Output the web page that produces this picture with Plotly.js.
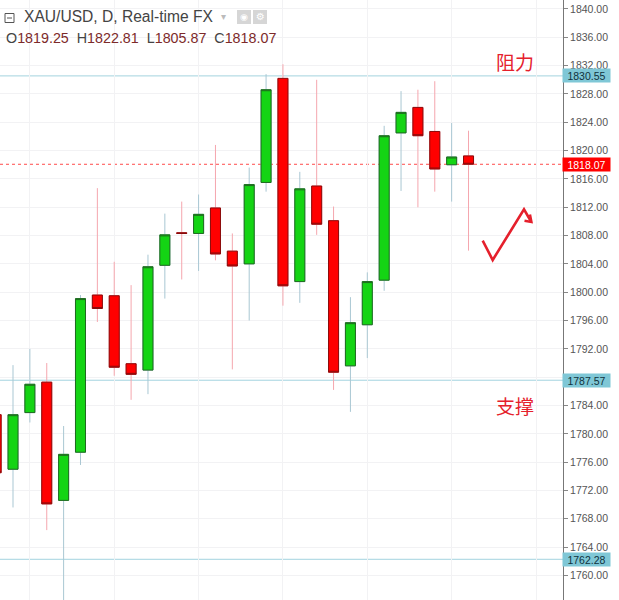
<!DOCTYPE html>
<html><head><meta charset="utf-8">
<script src="https://cdn.plot.ly/plotly-3.0.1.min.js"></script>
<style>html,body{margin:0;padding:0;background:#fff}#chart{width:619px;height:600px}</style>
</head><body><div id="chart"></div>
<script>
// Daily XAU/USD candles (oldest -> newest)
const openVals  = [1782.7,1775.0,1783.0,1787.3,1770.6,1777.4,1799.6,1799.5,1789.9,1789.0,1803.8,1808.4,1808.3,1811.9,1805.8,1804.0,1815.5,1830.2,1801.5,1815.0,1810.1,1789.6,1795.4,1801.7,1822.5,1826.1,1822.7,1818.0,1819.25];
const highVals  = [1784.5,1789.7,1792.0,1790.0,1781.1,1799.6,1814.7,1804.3,1801.0,1805.3,1811.1,1812.8,1813.8,1820.8,1808.3,1817.6,1830.8,1832.2,1817.0,1830.0,1812.1,1799.3,1802.8,1823.5,1828.4,1828.6,1829.8,1823.9,1822.81];
const lowVals   = [1772.0,1769.6,1781.6,1766.4,1756.0,1775.6,1795.8,1788.2,1784.8,1785.6,1799.1,1801.8,1803.0,1804.5,1789.1,1796.0,1814.2,1798.1,1798.5,1808.1,1786.2,1783.1,1790.7,1800.2,1814.3,1812.0,1814.2,1812.8,1805.87];
const closeVals = [1774.5,1782.7,1787.0,1770.1,1777.1,1799.1,1797.7,1789.4,1788.4,1803.6,1808.1,1808.3,1811.0,1805.4,1803.7,1815.2,1828.6,1800.9,1814.6,1809.6,1788.7,1795.7,1801.5,1822.1,1825.4,1822.1,1817.4,1819.1,1818.07];
const levelVals = [1830.55, 1787.57, 1762.28];   // resistance / support levels
const lastPrice = 1818.07;
const tickVals = [1760,1764,1768,1772,1776,1780,1784,1788,1792,1796,1800,1804,1808,1812,1816,1820,1824,1828,1832,1836,1840];
const tickText = ['1760.00','1764.00','1768.00','1772.00','1776.00','1780.00','1784.00','','1792.00','1796.00','1800.00','1804.00','1808.00','1812.00','1816.00','1820.00','1824.00','1828.00','1832.00','1836.00','1840.00'];
const headerTitle = 'XAU/USD, D, Real-time FX';
const ohlcLabels = ['O','H','L','C'];
const ohlcLast = ['1819.25','1822.81','1805.87','1818.07'];
const resistText = '阻力';
const supportText = '支撑';

const xIdx = openVals.map((_, i) => i);
const bodyHigh = openVals.map((o, i) => Math.max(o, closeVals[i]));
const bodyLow  = openVals.map((o, i) => Math.min(o, closeVals[i]));

const GREEN = '#14d414', RED = '#ff0000';
const traces = [
  { // wicks + body fill
    type: 'candlestick', x: xIdx, open: openVals, high: highVals, low: lowVals, close: closeVals,
    increasing: {line: {color: '#a9c7d3', width: 1}, fillcolor: GREEN},
    decreasing: {line: {color: '#f5a6ae', width: 1}, fillcolor: RED},
    whiskerwidth: 0, hoverinfo: 'skip', showlegend: false
  },
  { // body outlines
    type: 'candlestick', x: xIdx, open: openVals, high: bodyHigh, low: bodyLow, close: closeVals,
    increasing: {line: {color: '#1f6a1f', width: 1}, fillcolor: GREEN},
    decreasing: {line: {color: '#8a0b0b', width: 1}, fillcolor: RED},
    whiskerwidth: 0, hoverinfo: 'skip', showlegend: false
  }
];

const PW = 563; // plot width in px
const px = v => v / PW;
const py = v => 1 - v / 600;

const shapes = levelVals.map(v => ({type: 'line', xref: 'paper', x0: 0, x1: 1, yref: 'y', y0: v, y1: v,
  line: {color: '#a3d3df', width: 1}, layer: 'below'}));
shapes.push({type: 'line', xref: 'paper', x0: 0, x1: 1, yref: 'y', y0: lastPrice, y1: lastPrice,
  line: {color: '#ff4b4b', width: 1, dash: 'dot'}, layer: 'below'});
// check-mark drawing
shapes.push({type: 'path', xref: 'paper', yref: 'paper',
  path: `M ${px(482.7)} ${py(240.7)} L ${px(492.7)} ${py(260)} L ${px(524)} ${py(209.3)} L ${px(531)} ${py(221.5)}`,
  line: {color: '#e5202c', width: 2.6}});
shapes.push({type: 'path', xref: 'paper', yref: 'paper',
  path: `M ${px(524.5)} ${py(220.8)} L ${px(531.5)} ${py(222)} L ${px(530)} ${py(214.5)}`,
  line: {color: '#e5202c', width: 2.4}});
// header icon boxes
shapes.push({type: 'rect', xref: 'paper', yref: 'paper', x0: px(237), x1: px(251), y0: py(24), y1: py(10),
  fillcolor: '#d6d6d6', line: {width: 0}});
shapes.push({type: 'rect', xref: 'paper', yref: 'paper', x0: px(253), x1: px(267), y0: py(24), y1: py(10),
  fillcolor: '#d6d6d6', line: {width: 0}});
shapes.push({type: 'rect', xref: 'paper', yref: 'paper', x0: px(5), x1: px(14), y0: py(22.5), y1: py(13.5),
  fillcolor: 'rgba(0,0,0,0)', line: {color: '#555', width: 1}});
shapes.push({type: 'line', xref: 'paper', yref: 'paper', x0: px(7), x1: px(12), y0: py(18), y1: py(18),
  line: {color: '#555', width: 1}});

const annotations = [];
levelVals.forEach(v => annotations.push({xref: 'paper', x: 1, xanchor: 'left', xshift: -1, yref: 'y', y: v,
  text: v.toFixed(2), showarrow: false, bgcolor: '#7fc7d6', width: 47, height: 13, borderpad: 0,
  font: {family: 'Liberation Sans, Arial, sans-serif', size: 10.5, color: '#10323c'}}));
annotations.push({xref: 'paper', x: 1, xanchor: 'left', xshift: -1, yref: 'y', y: lastPrice,
  text: lastPrice.toFixed(2), showarrow: false, bgcolor: '#ff0000', width: 47, height: 13, borderpad: 0,
  font: {family: 'Liberation Sans, Arial, sans-serif', size: 10.5, color: '#ffffff'}});
annotations.push({xref: 'paper', yref: 'paper', x: px(22), y: py(17), xanchor: 'left', yanchor: 'middle',
  text: headerTitle, showarrow: false, font: {family: 'Liberation Sans, Arial, sans-serif', size: 15.6, color: '#444'}});
annotations.push({xref: 'paper', yref: 'paper', x: px(223), y: py(17), xanchor: 'center', yanchor: 'middle',
  text: '▾', showarrow: false, font: {family: 'DejaVu Sans', size: 10, color: '#bbb'}});
annotations.push({xref: 'paper', yref: 'paper', x: px(244), y: py(17), xanchor: 'center', yanchor: 'middle',
  text: '◉', showarrow: false, font: {family: 'DejaVu Sans', size: 9, color: '#fff'}});
annotations.push({xref: 'paper', yref: 'paper', x: px(260), y: py(17), xanchor: 'center', yanchor: 'middle',
  text: '⚙', showarrow: false, font: {family: 'DejaVu Sans', size: 10, color: '#fff'}});
const ohlcText = ohlcLabels.map((l, i) => `<span style="color:#444">${l}</span><span style="color:#7d2a2a">${ohlcLast[i]}</span>`).join('  ');
annotations.push({xref: 'paper', yref: 'paper', x: px(4), y: py(38), xanchor: 'left', yanchor: 'middle',
  text: ohlcText, showarrow: false, font: {family: 'Liberation Sans, Arial, sans-serif', size: 14.3, color: '#444'}});
annotations.push({xref: 'paper', yref: 'paper', x: px(515), y: py(62), xanchor: 'center', yanchor: 'middle',
  text: resistText, showarrow: false, font: {family: 'Noto Sans CJK SC', size: 19, color: '#e5202c'}});
annotations.push({xref: 'paper', yref: 'paper', x: px(515), y: py(405), xanchor: 'center', yanchor: 'middle',
  text: supportText, showarrow: false, font: {family: 'Noto Sans CJK SC', size: 19, color: '#e5202c'}});

const layout = {
  width: 619, height: 600,
  margin: {l: 0, r: 56, t: 0, b: 0, pad: 0},
  paper_bgcolor: '#fff', plot_bgcolor: '#fff',
  showlegend: false,
  boxgap: 0.15, boxgroupgap: 0.3,
  xaxis: {range: [0.229, 33.6], showticklabels: false, ticks: '', tick0: 2, dtick: 5,
    showgrid: true, gridcolor: '#f2f2f4', gridwidth: 1, zeroline: false, showline: false,
    rangeslider: {visible: false}, fixedrange: true},
  yaxis: {side: 'right', range: [1756.53, 1841.27], tickmode: 'array', tickvals: tickVals, ticktext: tickText,
    ticks: 'outside', ticklen: 4, tickcolor: '#888', showline: true, linecolor: '#777', linewidth: 1,
    showgrid: true, gridcolor: '#f2f2f4', zeroline: false,
    tickfont: {family: 'Liberation Sans, Arial, sans-serif', size: 10.5, color: '#555'}},
  shapes: shapes,
  annotations: annotations
};
Plotly.newPlot('chart', traces, layout, {displayModeBar: false, staticPlot: true});
</script></body></html>
